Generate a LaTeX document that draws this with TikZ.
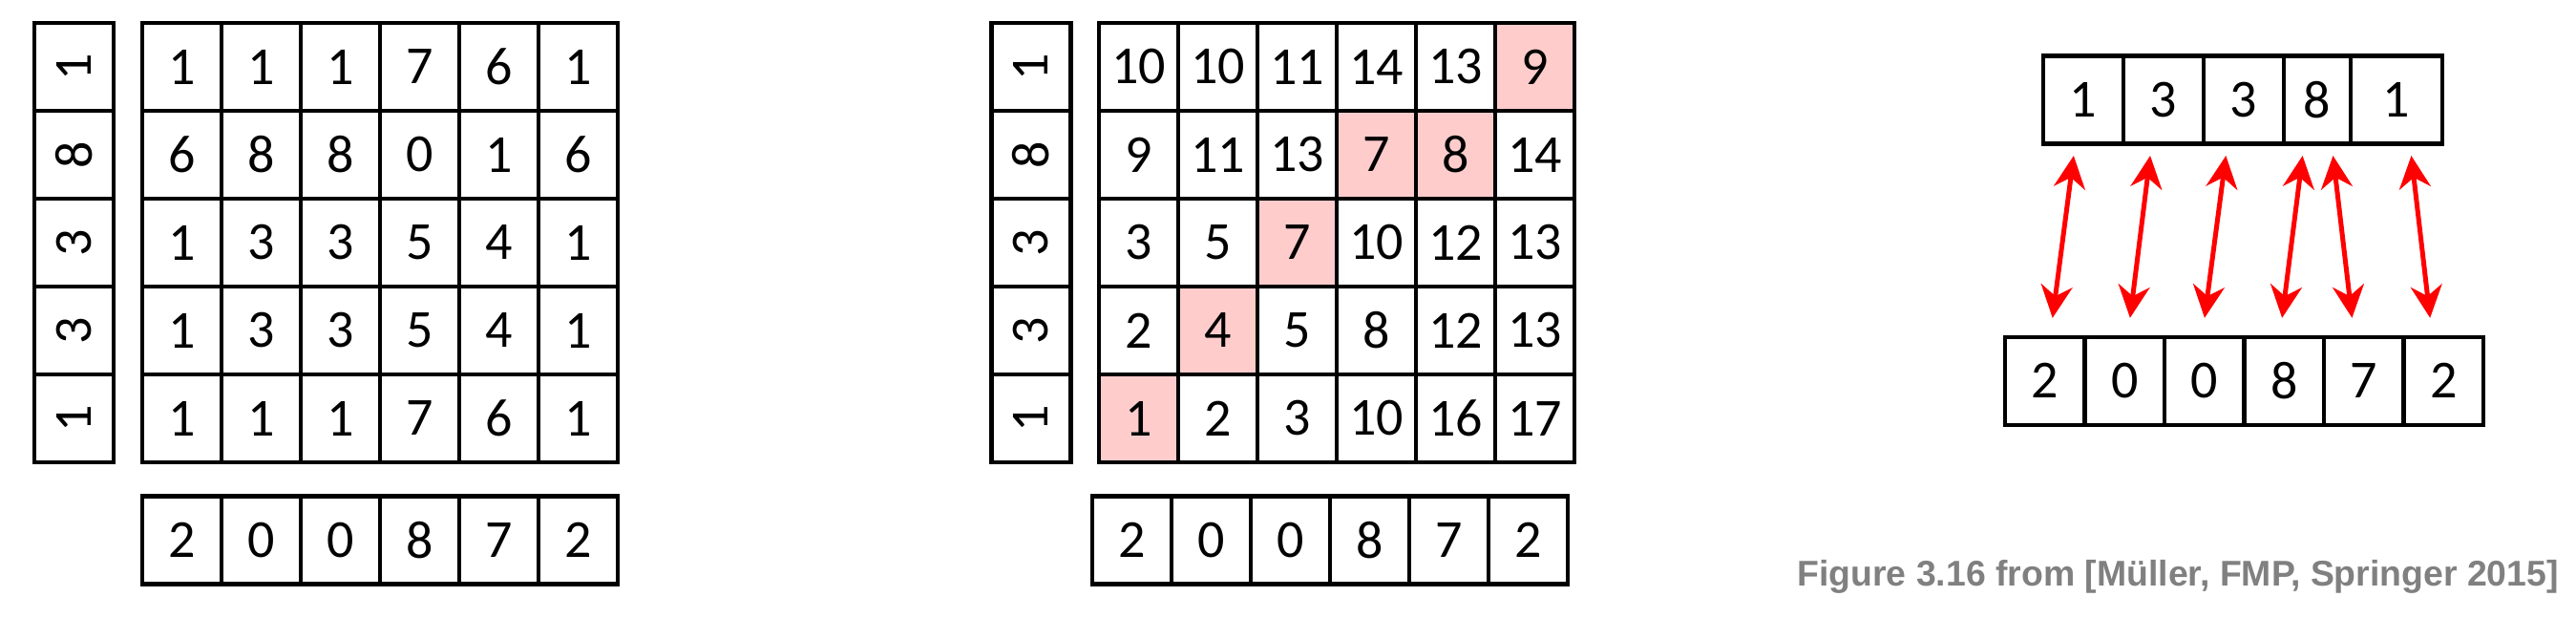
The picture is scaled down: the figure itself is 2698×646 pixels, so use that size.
\documentclass[tikz,border=0pt]{standalone}
\usepackage{fontspec}
\usepackage{graphicx}
\usepackage{tikz}
\usetikzlibrary{arrows.meta,positioning,backgrounds}
\newfontfamily\cellfont{Carlito}
\newfontfamily\capfont{Liberation Sans}
\definecolor{hlpink}{RGB}{255,204,204}
\definecolor{capgrey}{RGB}{128,128,128}
\definecolor{linkred}{RGB}{255,0,0}
\newcommand{\rot}[1]{\rotatebox{90}{#1}}
\tikzset{
  cell/.style={draw=black,line width=4.4pt,minimum width=83pt,minimum height=92pt,
               inner sep=0pt,outer sep=0pt,font=\cellfont\fontsize{56}{66}\selectfont},
  hl/.style={fill=hlpink},
  link/.style={{Stealth[length=34pt,width=33pt]}-{Stealth[length=34pt,width=33pt]},
               line width=5pt,draw=linkred,shorten <=12.6pt,shorten >=20pt},
  srccap/.style={font=\capfont\bfseries\fontsize{37.4}{44}\selectfont,text=capgrey,inner sep=0pt},
}

\begin{document}
\begin{tikzpicture}[x=1pt,y=-1pt]
  \useasboundingbox (0,0) rectangle (2698,646);

  % panel 1: local cost matrix
  \foreach \v [count=\rw] in {1,8,3,3,1}
    \node[cell] (p1x-\rw) at (77.5,{24+92*(\rw-0.5)}) {\rot{\v}};
  \foreach \row [count=\rw] in {{1,1,1,7,6,1},{6,8,8,0,1,6},{1,3,3,5,4,1},
                                {1,3,3,5,4,1},{1,1,1,7,6,1}}
    \foreach \v [count=\cl] in \row
      \node[cell] (p1c-\rw-\cl) at ({148.7+83*(\cl-0.5)},{24+92*(\rw-0.5)}) {\v};
  \foreach \v [count=\cl] in {2,0,0,8,7,2}
    \node[cell] (p1y-\cl) at ({148.7+83*(\cl-0.5)},565.3) {\v};

  % panel 2: accumulated cost, optimal path shaded
  \foreach \v [count=\rw] in {1,8,3,3,1}
    \node[cell] (p2x-\rw) at (1079.8,{24+92*(\rw-0.5)}) {\rot{\v}};
  \foreach \row [count=\rw] in {{10,10,11,14,13,9},{9,11,13,7,8,14},{3,5,7,10,12,13},
                                {2,4,5,8,12,13},{1,2,3,10,16,17}}
    \foreach \v [count=\cl] in \row
      \node[cell] (p2d-\rw-\cl) at ({1151+83*(\cl-0.5)},{24+92*(\rw-0.5)}) {\v};
  \begin{scope}[on background layer]
    \foreach \rw/\cl in {1/6,2/4,2/5,3/3,4/2,5/1}
      \fill[hl] (p2d-\rw-\cl.south west) rectangle (p2d-\rw-\cl.north east);
  \end{scope}
  \foreach \v [count=\cl] in {2,0,0,8,7,2}
    \node[cell] (p2y-\cl) at ({1144+83*(\cl-0.5)},565.3) {\v};

  % panel 3: the resulting alignment
  \node[cell,minimum width=84pt] (p3x-1) at (2182,104.5) {1};
  \node[cell,minimum width=84pt,right=0pt of p3x-1] (p3x-2) {3};
  \node[cell,minimum width=84pt,right=0pt of p3x-2] (p3x-3) {3};
  \node[cell,minimum width=70pt,right=0pt of p3x-3] (p3x-4) {8};
  \node[cell,minimum width=96pt,right=0pt of p3x-4] (p3x-5) {1};
  \foreach \v [count=\cl] in {2,0,0,8,7,2}
    \node[cell,minimum width=83.5pt] (p3y-\cl) at ({2100+83.5*(\cl-0.5)},398.7) {\v};

  \draw[link] ([xshift=-8.5pt]p3x-1.south) -- ([xshift=5.4pt]p3y-1.north);
  \draw[link] ([xshift=-12.4pt]p3x-2.south) -- ([xshift=3.2pt]p3y-2.north);
  \draw[link] ([xshift=-17pt]p3x-3.south) -- ([xshift=-2.4pt]p3y-3.north);
  \draw[link] ([xshift=-13.8pt]p3x-4.south) -- ([xshift=-4.6pt]p3y-4.north);
  \draw[link] ([xshift=15pt]p3x-4.south) -- ([xshift=-10pt]p3y-5.north);
  \draw[link] ([xshift=14pt]p3x-5.south) -- ([xshift=-11.8pt]p3y-6.north);

  \node[srccap,anchor=base east] (src) at (2680,613)
    {Figure 3.16 from [Müller, FMP, Springer 2015]};
\end{tikzpicture}
\end{document}
